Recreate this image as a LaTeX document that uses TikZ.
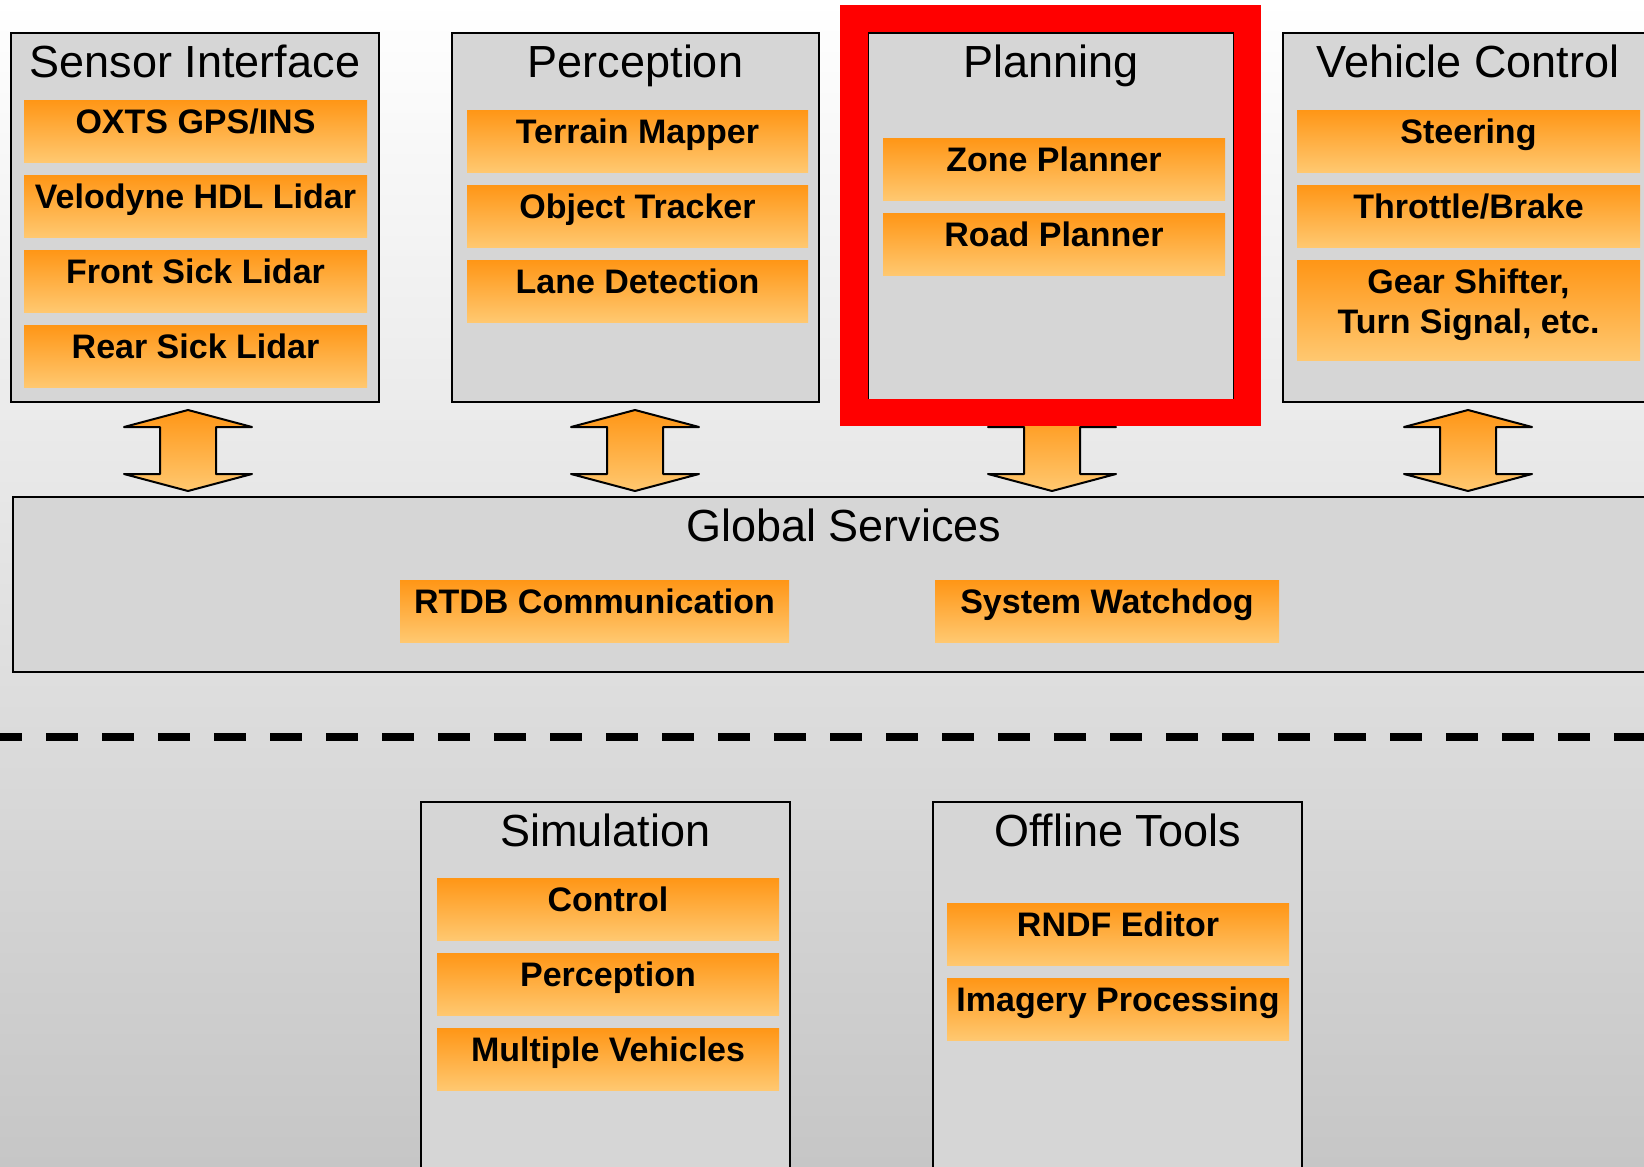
\documentclass[tikz,border=0pt]{standalone}
\usepackage{fontspec}
\setmainfont{Liberation Sans}
\usetikzlibrary{positioning}
\definecolor{panelgray}{RGB}{214,214,214}
\definecolor{itemtop}{RGB}{255,150,22}
\definecolor{itembot}{RGB}{255,200,112}
\definecolor{bgbottom}{RGB}{198,198,198}
\definecolor{framered}{RGB}{255,0,0}

\begin{document}
\begin{tikzpicture}[
  x=1pt, y=-1pt,
  panel/.style={draw=black, line width=2.4pt, fill=panelgray, anchor=north west,
                outer sep=0pt, inner ysep=0pt, text height=44pt, align=center,
                font=\fontsize{45pt}{54pt}\selectfont},
  item/.style={anchor=north, outer sep=0pt, inner sep=0pt, text height=33pt,
               text depth=29pt, minimum width=343pt, align=center,
               top color=itemtop, bottom color=itembot,
               font=\bfseries\fontsize{34pt}{40pt}\selectfont},
  blockarrow/.style={draw=black, line width=2pt, line join=round,
                     top color=itemtop, bottom color=itembot},
  redframe/.style={draw=framered, line width=27.5pt},
  split/.style={line width=8pt, dash pattern=on 32pt off 24pt, dash phase=10pt}
]
\useasboundingbox (0,0) rectangle (1644,1167);
\clip (0,0) rectangle (1644,1167);
\shade[top color=white, bottom color=bgbottom] (0,0) rectangle (1644,1167);

% Panels
\node[panel, minimum width=368pt, text depth=325pt] (sensor) at (11,33) {Sensor Interface};
\node[panel, minimum width=367pt, text depth=325pt] (percep) at (452,33) {Perception};
\node[panel, minimum width=366pt, text depth=325pt] (plan) at (868,33) {Planning};
\node[panel, minimum width=370pt, text depth=325pt] (vehicle) at (1283,33) {Vehicle Control};
\node[panel, minimum width=1662pt, text depth=131pt] (global) at (13,497) {Global Services};
\node[panel, minimum width=369pt, text depth=355pt] (sim) at (421,802) {Simulation};
\node[panel, minimum width=369pt, text depth=355pt] (offline) at (933,802) {Offline Tools};

% Sensor Interface
\node[item] (oxts) at (195.5,100) {OXTS GPS/INS};
\node[item, below=13pt of oxts] (velo) {Velodyne HDL Lidar};
\node[item, below=13pt of velo] (fsick) {Front Sick Lidar};
\node[item, below=13pt of fsick] (rsick) {Rear Sick Lidar};

% Perception
\node[item, minimum width=341pt] (terrain) at (637.5,110) {Terrain Mapper};
\node[item, minimum width=341pt, below=13pt of terrain] (tracker) {Object Tracker};
\node[item, minimum width=341pt, below=13pt of tracker] (lane) {Lane Detection};

% Planning
\node[item, minimum width=342pt] (zone) at (1054,138) {Zone Planner};
\node[item, minimum width=342pt, below=13pt of zone] (road) {Road Planner};

% Vehicle Control
\node[item] (steer) at (1468.5,110) {Steering};
\node[item, below=13pt of steer] (throttle) {Throttle/Brake};
\node[item, text height=73pt, text depth=27pt, below=13pt of throttle] (gear)
  {Gear Shifter,\\Turn Signal, etc.};

% Global Services
\node[item, minimum width=389pt] (rtdb) at (594.5,580) {RTDB Communication};
\node[item, minimum width=344pt, anchor=north west] (watchdog) at (935,580) {System Watchdog};

% Simulation
\node[item, minimum width=342pt] (simctrl) at (608,878) {Control};
\node[item, minimum width=342pt, below=13pt of simctrl] (simpercep) {Perception};
\node[item, minimum width=342pt, below=13pt of simpercep] (multi) {Multiple Vehicles};

% Offline Tools
\node[item, minimum width=342pt] (rndf) at (1118,903) {RNDF Editor};
\node[item, minimum width=342pt, below=13pt of rndf] (imagery) {Imagery Processing};

% Block arrows to global services
\foreach \ax in {188,635,1052,1468}
  \draw[blockarrow] (\ax,410) -- ++(64,17) -- ++(-36,0) -- ++(0,47) -- ++(36,0)
    -- ++(-64,17) -- ++(-64,-17) -- ++(36,0) -- ++(0,-47) -- ++(-36,0) -- cycle;

% Highlight
\draw[redframe] ([xshift=-14pt,yshift=14.5pt]plan.north west)
  rectangle ([xshift=13.5pt,yshift=-10.5pt]plan.south east);

% Onboard / offboard split
\draw[split] (0,737) -- (1644,737);

\end{tikzpicture}
\end{document}
